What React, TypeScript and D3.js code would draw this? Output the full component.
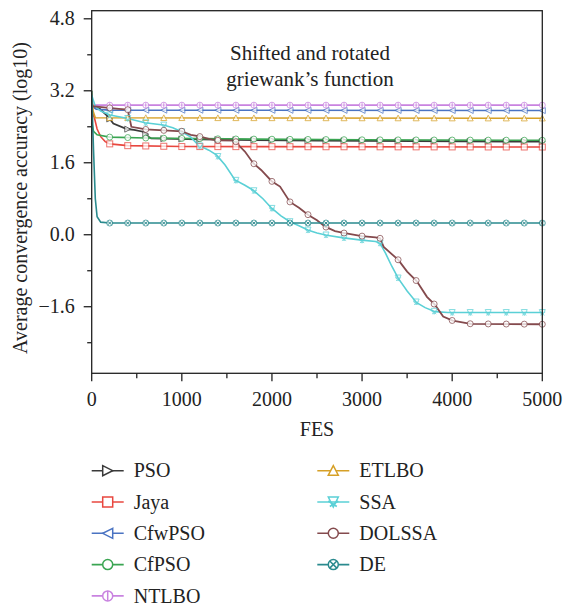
import React from "react";
import * as d3 from "d3";

const W = 564;
const H = 610;

// ---------- data ----------
const seriesNames = ["PSO", "Jaya", "CfwPSO", "CfPSO", "NTLBO", "ETLBO", "SSA", "DOLSSA", "DE"];

const psoFes = [0, 90, 170, 240, 390, 470, 570, 630, 660, 1200, 2500, 5000];
const psoVal = [2.87, 2.8, 2.65, 2.47, 2.35, 2.33, 2.29, 2.18, 2.14, 2.12, 2.09, 2.07];

const jayaFes = [0, 30, 60, 100, 150, 200, 400, 1000, 5000];
const jayaVal = [2.75, 2.6, 2.35, 2.18, 2.07, 2.02, 1.98, 1.96, 1.95];

const cfwFes = [0, 50, 200, 5000];
const cfwVal = [2.86, 2.79, 2.77, 2.76];

const cfFes = [0, 20, 60, 200, 600, 1500, 3000, 5000];
const cfVal = [2.5, 2.3, 2.22, 2.17, 2.15, 2.13, 2.11, 2.1];

const ntlboFes = [0, 30, 5000];
const ntlboVal = [2.92, 2.88, 2.88];

const etlboFes = [0, 15, 40, 5000];
const etlboVal = [3.2, 2.75, 2.6, 2.59];

const ssaFes = [0, 40, 100, 203, 388, 592, 795, 900, 999, 1100, 1183, 1300, 1387, 1480, 1590, 1700, 1793, 1900, 1997, 2100, 2200, 2300, 2404, 2500, 2608, 2793, 2996, 3150, 3200, 3260, 3330, 3402, 3500, 3606, 3700, 3810, 3950, 5000];
const ssaVal = [3.1, 2.85, 2.75, 2.66, 2.59, 2.49, 2.44, 2.38, 2.29, 2.17, 1.99, 1.88, 1.77, 1.55, 1.22, 1.1, 0.99, 0.8, 0.59, 0.42, 0.29, 0.2, 0.1, 0.04, -0.01, -0.07, -0.12, -0.15, -0.19, -0.41, -0.7, -0.97, -1.25, -1.51, -1.62, -1.71, -1.73, -1.73];

const dolFes = [0, 300, 400, 440, 600, 1000, 1100, 1183, 1300, 1387, 1590, 1650, 1700, 1793, 1880, 1997, 2090, 2200, 2300, 2404, 2500, 2590, 2700, 2793, 2997, 3150, 3200, 3240, 3402, 3500, 3606, 3720, 3810, 3900, 4005, 4205, 5000];
const dolVal = [2.86, 2.8, 2.78, 2.4, 2.34, 2.3, 2.22, 2.19, 2.13, 2.1, 2.09, 1.95, 1.85, 1.59, 1.44, 1.19, 1.07, 0.73, 0.6, 0.44, 0.32, 0.18, 0.08, 0.04, -0.03, -0.06, -0.08, -0.27, -0.56, -0.82, -1.03, -1.38, -1.56, -1.82, -1.91, -1.98, -1.99];

const deFes = [0, 20, 40, 60, 100, 200, 5000];
const deVal = [3.2, 1.9, 0.8, 0.4, 0.28, 0.26, 0.26];

const markerFes = d3.range(200, 5001, 200);

const yMajorTicks = [4.8, 3.2, 1.6, 0.0, -1.6];
const yMinorTicks = [4.0, 2.4, 0.8, -0.8, -2.4];
const xMajorTicks = [0, 1000, 2000, 3000, 4000, 5000];
const xMinorTicks = [500, 1500, 2500, 3500, 4500];

const titleLines = ["Shifted and rotated", "griewank\u2019s function"];

// ---------- styles ----------
const colors: Record<string, string> = {
  PSO: "#3a3a3a",
  Jaya: "#e8473f",
  CfwPSO: "#4a73c2",
  CfPSO: "#3aa552",
  NTLBO: "#c983e0",
  ETLBO: "#d6a027",
  SSA: "#5ad0d6",
  DOLSSA: "#844a4d",
  DE: "#2a8a8e",
};
const markerType: Record<string, string> = {
  PSO: "triR",
  Jaya: "square",
  CfwPSO: "triL",
  CfPSO: "circle",
  NTLBO: "circleV",
  ETLBO: "triU",
  SSA: "triDX",
  DOLSSA: "circle",
  DE: "circleX",
};

const seriesData: Record<string, [number[], number[]]> = {
  PSO: [psoFes, psoVal],
  Jaya: [jayaFes, jayaVal],
  CfwPSO: [cfwFes, cfwVal],
  CfPSO: [cfFes, cfVal],
  NTLBO: [ntlboFes, ntlboVal],
  ETLBO: [etlboFes, etlboVal],
  SSA: [ssaFes, ssaVal],
  DOLSSA: [dolFes, dolVal],
  DE: [deFes, deVal],
};

function Marker({ type, x, y, s, color, sw }: { type: string; x: number; y: number; s: number; color: string; sw: number }) {
  const common = { fill: "white", stroke: color, strokeWidth: sw };
  switch (type) {
    case "square":
      return <rect x={x - s} y={y - s} width={2 * s} height={2 * s} {...common} />;
    case "triR":
      return <path d={`M${x - s},${y - s}L${x + s},${y}L${x - s},${y + s}Z`} {...common} />;
    case "triL":
      return <path d={`M${x + s},${y - s}L${x - s},${y}L${x + s},${y + s}Z`} {...common} />;
    case "triU":
      return <path d={`M${x - s},${y + s * 0.9}L${x},${y - s}L${x + s},${y + s * 0.9}Z`} {...common} />;
    case "circle":
      return <circle cx={x} cy={y} r={s} {...common} />;
    case "circleV":
      return (
        <g>
          <circle cx={x} cy={y} r={s} {...common} />
          <line x1={x} x2={x} y1={y - s} y2={y + s} stroke={color} strokeWidth={sw} />
        </g>
      );
    case "circleX": {
      const k = s * 0.707;
      return (
        <g>
          <circle cx={x} cy={y} r={s} {...common} />
          <path d={`M${x - k},${y - k}L${x + k},${y + k}M${x + k},${y - k}L${x - k},${y + k}`} stroke={color} strokeWidth={sw} />
        </g>
      );
    }
    case "triDX":
      return (
        <g>
          <path d={`M${x - s},${y - s}L${x + s},${y - s}L${x},${y + s}Z`} fill="none" stroke={color} strokeWidth={sw} />
          <path d={`M${x - s},${y - s * 0.2}L${x + s * 0.7},${y + s * 0.9}M${x + s},${y - s * 0.2}L${x - s * 0.7},${y + s * 0.9}`} stroke={color} strokeWidth={sw} />
        </g>
      );
    default:
      return null;
  }
}

function T(props: any) {
  const { children, ...rest } = props;
  return (
    <text fontFamily="Liberation Serif" style={{ fontFamily: "Liberation Serif" }} fill="#222" {...rest}>
      {children}
    </text>
  );
}

export default function App() {
  const x = d3.scaleLinear().domain([0, 5000]).range([91.7, 542.3]);
  const y = d3.scaleLinear().domain([-3.08, 4.98]).range([373.3, 10.7]);
  const [x0, x1] = x.range();
  const [yb, yt] = y.range();

  const line = d3
    .line<[number, number]>()
    .x((d) => x(d[0]))
    .y((d) => y(d[1]));

  const legendCol1 = seriesNames.slice(0, 5);
  const legendCol2 = seriesNames.slice(5);
  const rowY = (i: number) => 470.7 + i * 31.3;

  return (
    <svg width={W} height={H} style={{ position: "absolute", left: 0, top: 0, background: "white" }}>
      <style>{`text { font-family: "Liberation Serif", "Times New Roman", serif; }`}</style>
      <rect width={W} height={H} fill="white" />
      {/* series lines */}
      {seriesNames.map((n) => {
        const [f, v] = seriesData[n];
        const pts = f.map((fx, i) => [fx, v[i]] as [number, number]);
        return <path key={n} d={line(pts) || ""} fill="none" stroke={colors[n]} strokeWidth={n === "DOLSSA" || n === "PSO" ? 1.8 : 1.6} />;
      })}
      {/* markers */}
      {seriesNames.map((n) => {
        const [f, v] = seriesData[n];
        const interp = d3.scaleLinear().domain(f).range(v);
        return (
          <g key={n + "m"} opacity={0.75}>
            {markerFes.map((fx) => (
              <Marker key={fx} type={markerType[n]} x={x(fx)} y={y(interp(fx))} s={3} color={colors[n]} sw={1} />
            ))}
          </g>
        );
      })}
      {/* frame */}
      <rect x={x0} y={yt} width={x1 - x0} height={yb - yt} fill="none" stroke="#222" strokeWidth={1.3} />
      {/* y ticks */}
      {yMajorTicks.map((t) => (
        <g key={"ym" + t}>
          <line x1={x0 - 8} x2={x0} y1={y(t)} y2={y(t)} stroke="#222" strokeWidth={1.3} />
          <T x={x0 - 17} y={y(t) + 6.5} textAnchor="end" fontSize={20}>
            {t < 0 ? "\u2212" + Math.abs(t).toFixed(1) : t.toFixed(1)}
          </T>
        </g>
      ))}
      {yMinorTicks.map((t) => (
        <line key={"yn" + t} x1={x0 - 4.5} x2={x0} y1={y(t)} y2={y(t)} stroke="#222" strokeWidth={1.3} />
      ))}
      {/* x ticks */}
      {xMajorTicks.map((t) => (
        <g key={"xm" + t}>
          <line x1={x(t)} x2={x(t)} y1={yb} y2={yb + 8} stroke="#222" strokeWidth={1.3} />
          <T x={x(t)} y={406} textAnchor="middle" fontSize={20}>
            {String(t)}
          </T>
        </g>
      ))}
      {xMinorTicks.map((t) => (
        <line key={"xn" + t} x1={x(t)} x2={x(t)} y1={yb} y2={yb + 5} stroke="#222" strokeWidth={1.3} />
      ))}
      {/* axis titles */}
      <T x={317} y={436} textAnchor="middle" fontSize={20}>
        FES
      </T>
      <T transform="translate(27,198) rotate(-90)" textAnchor="middle" fontSize={20}>
        Average convergence accuracy (log10)
      </T>
      {/* chart title */}
      {titleLines.map((l, i) => (
        <T key={l} x={310} y={60 + i * 25.5} textAnchor="middle" fontSize={21}>
          {l}
        </T>
      ))}
      {/* legend */}
      {[legendCol1, legendCol2].map((col, ci) =>
        col.map((n, i) => {
          const lx0 = ci === 0 ? 91.7 : 317.3;
          const ly = rowY(i);
          return (
            <g key={"lg" + n}>
              <line x1={lx0} x2={lx0 + 32} y1={ly} y2={ly} stroke={colors[n]} strokeWidth={1.6} />
              <Marker type={markerType[n]} x={lx0 + 16} y={ly} s={5} color={colors[n]} sw={1.5} />
              <T x={lx0 + 42} y={ly + 6.7} fontSize={20}>
                {n}
              </T>
            </g>
          );
        })
      )}
    </svg>
  );
}
